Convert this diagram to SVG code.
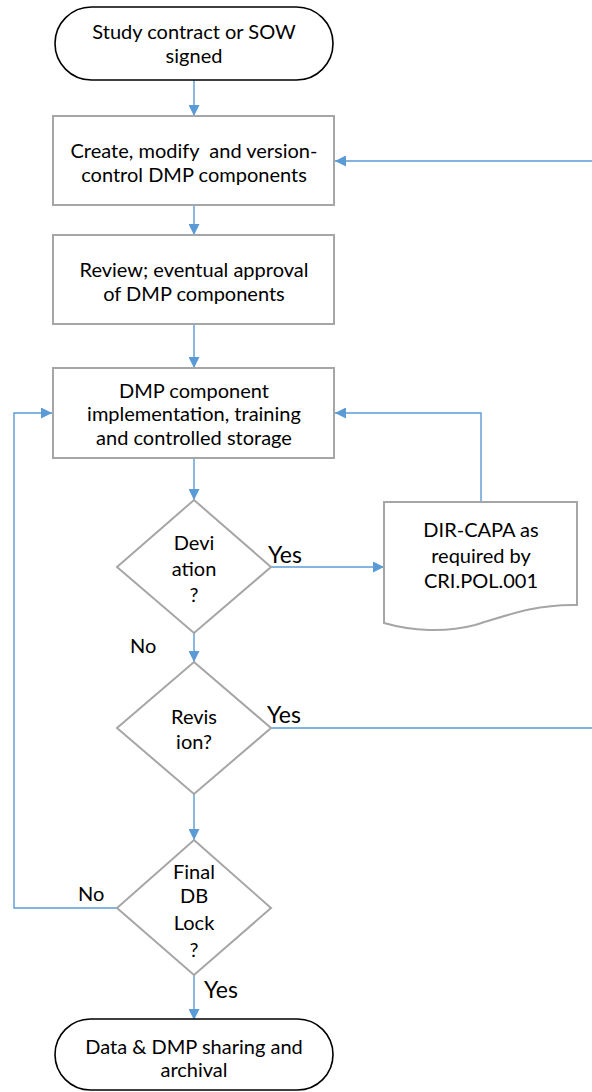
<svg xmlns="http://www.w3.org/2000/svg" width="592" height="1092" viewBox="0 0 592 1092">
<defs>
<style>
.t{font-family:Lato,"Liberation Sans",sans-serif;font-size:20px;fill:#000;text-anchor:middle}
.lbl{font-family:Lato,"Liberation Sans",sans-serif;font-size:20px;fill:#000}
.big{font-size:23px}
.box{fill:#fff;stroke:#a6a6a6;stroke-width:2}
.term{fill:#fff;stroke:#000;stroke-width:1.6}
.c{fill:none;stroke:#5b9bd5;stroke-width:1.4}
</style>
<marker id="ah" viewBox="0 0 10 10" refX="10" refY="5" markerWidth="11" markerHeight="11" markerUnits="userSpaceOnUse" orient="auto">
<path d="M0,0 L10,5 L0,10 Z" fill="#5b9bd5"/>
</marker>
</defs>
<rect width="592" height="1092" fill="#fff"/>
<g id="connectors">
<path class="c" d="M194,80 V116" marker-end="url(#ah)"/>
<path class="c" d="M194,205 V235" marker-end="url(#ah)"/>
<path class="c" d="M194,324 V368" marker-end="url(#ah)"/>
<path class="c" d="M194,458 V500" marker-end="url(#ah)"/>
<path class="c" d="M271,567 H384" marker-end="url(#ah)"/>
<path class="c" d="M481,502 V413 H335" marker-end="url(#ah)"/>
<path class="c" d="M194,633 V662" marker-end="url(#ah)"/>
<path class="c" d="M271,728 H600 V161 H335" marker-end="url(#ah)"/>
<path class="c" d="M194,794 V840" marker-end="url(#ah)"/>
<path class="c" d="M117,908 H14 V413 H52" marker-end="url(#ah)"/>
<path class="c" d="M194,975 V1020" marker-end="url(#ah)"/>
</g>
<g id="start">
<rect class="term" x="55" y="7" width="278" height="73" rx="36.5"/>
<text class="t" x="194" y="39">Study contract or SOW</text>
<text class="t" x="194" y="63">signed</text>
</g>
<g id="create">
<rect class="box" x="53" y="116" width="281" height="89"/>
<text class="t" x="194" y="158" xml:space="preserve">Create, modify  and version-</text>
<text class="t" x="194" y="182">control DMP components</text>
</g>
<g id="review">
<rect class="box" x="53" y="235" width="281" height="89"/>
<text class="t" x="194" y="277">Review; eventual approval</text>
<text class="t" x="194" y="301">of DMP components</text>
</g>
<g id="implement">
<rect class="box" x="53" y="368" width="281" height="90"/>
<text class="t" x="194" y="398">DMP component</text>
<text class="t" x="194" y="421">implementation, training</text>
<text class="t" x="194" y="445">and controlled storage</text>
</g>
<g id="deviation">
<path class="box" d="M194,500 L271,567 L194,633 L117,567 Z"/>
<text class="t" x="194" y="550">Devi</text>
<text class="t" x="194" y="576">ation</text>
<text class="t" x="194" y="602">?</text>
</g>
<g id="dircapa">
<path class="box" d="M384,502 H577 V605 C535,604 505,616 475,625 C445,633 412,631 384,623 Z"/>
<text class="t" x="481" y="537">DIR-CAPA as</text>
<text class="t" x="481" y="563">required by</text>
<text class="t" x="481" y="588">CRI.POL.001</text>
</g>
<g id="revision">
<path class="box" d="M194,662 L271,728 L194,794 L117,728 Z"/>
<text class="t" x="194" y="724">Revis</text>
<text class="t" x="194" y="749">ion?</text>
</g>
<g id="dblock">
<path class="box" d="M194,840 L271,908 L194,975 L117,908 Z"/>
<text class="t" x="194" y="879">Final</text>
<text class="t" x="194" y="903">DB</text>
<text class="t" x="194" y="930">Lock</text>
<text class="t" x="194" y="957">?</text>
</g>
<g id="end">
<rect class="term" x="55" y="1019" width="278" height="71" rx="35.5"/>
<text class="t" x="194" y="1054">Data &amp; DMP sharing and</text>
<text class="t" x="194" y="1077">archival</text>
</g>
<g id="labels">
<text class="lbl big" x="268" y="563">Yes</text>
<text class="lbl" x="130" y="653">No</text>
<text class="lbl big" x="267" y="723">Yes</text>
<text class="lbl" x="78" y="901">No</text>
<text class="lbl big" x="204" y="998">Yes</text>
</g>
</svg>
